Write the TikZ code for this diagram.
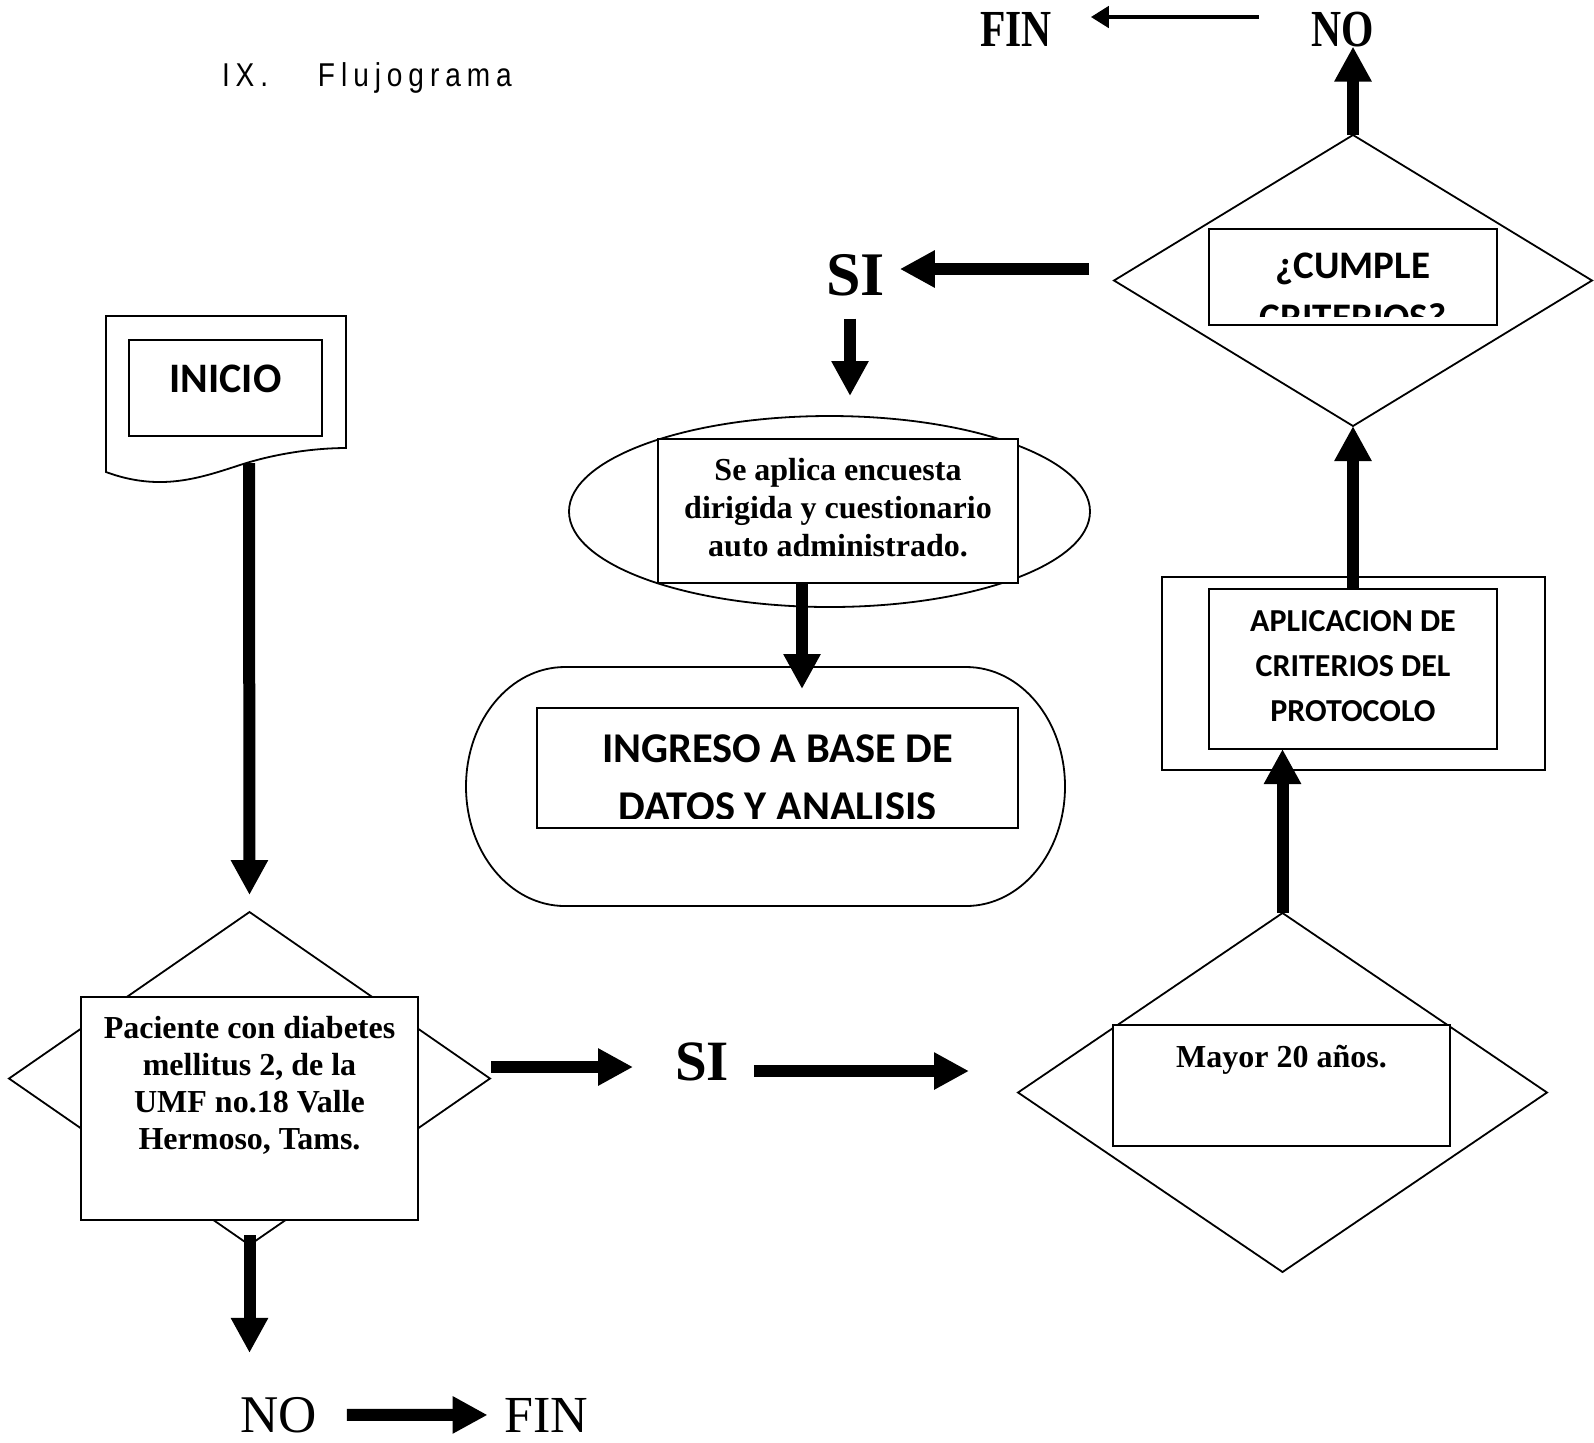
\documentclass[tikz,border=0pt]{standalone}
\usepackage{fontspec}
\setmainfont{Liberation Serif}
\newfontfamily\calfont{Carlito}
\newfontfamily\condfont[FakeStretch=0.8]{Liberation Serif}
\newfontfamily\titlefont[FakeStretch=0.85,LetterSpace=18]{Liberation Sans}
\usetikzlibrary{shapes.geometric,arrows.meta}
\tikzset{
  shapeline/.style={draw=black,line width=0.9pt},
  dia/.style={shapeline,diamond,inner sep=0pt,outer sep=0pt,fill=white},
  box/.style={shapeline,rectangle,inner sep=0pt,outer sep=0pt,fill=white},
  oval/.style={shapeline,ellipse,inner sep=0pt,outer sep=0pt,fill=white},
  bigarrow/.style={line width=6pt,-{Triangle[length=17.5pt,width=17.5pt]}},
  smallarrow/.style={line width=2.3pt,-{Triangle[length=9pt,width=10.5pt]}},
  serifbox/.style={font=\bfseries\fontsize{16pt}{18.5pt}\selectfont,align=center,inner sep=0pt},
  lbl/.style={inner sep=0pt,outer sep=0pt},
}
\begin{document}
\begin{tikzpicture}[x=0.5pt,y=-0.5pt]
\path[use as bounding box,fill=white] (0,0) rectangle (1594,1442);

% title
\node[lbl,anchor=base west,font=\titlefont\fontsize{16.5pt}{20pt}\selectfont] (title) at (222,86)
  {\makebox[48pt][l]{IX.}Flujograma};

% INICIO document shape
\draw[shapeline,fill=white] (106,316) -- (346,316) -- (346,448)
  .. controls (320,448) and (280,452) .. (240,465)
  .. controls (200,478) and (160,492) .. (106,472) -- cycle;
\coordinate (docb) at (249,463);
\node[box,minimum width=96.5pt,minimum height=48pt] (inicioR) at (225.5,388) {};
\node[lbl,anchor=base,font=\calfont\bfseries\fontsize{21pt}{25pt}\selectfont] (inicioT) at (225.5,392) {INICIO};

% Paciente decision
\node[dia,minimum width=240.5pt,minimum height=166.5pt] (pacD) at (249.5,1078.5) {};
\node[box,minimum width=168.5pt,minimum height=111.5pt] (pacR) at (249.5,1108.5) {};
\node[serifbox,anchor=north] (pacT) at (249.5,1016)
  {Paciente con diabetes\\mellitus 2, de la\\UMF no.18 Valle\\Hermoso, Tams.};

% Mayor decision
\node[dia,minimum width=264.5pt,minimum height=179.5pt] (mayorD) at (1282.5,1092.5) {};
\node[box,minimum width=168.5pt,minimum height=60.5pt] (mayorR) at (1281.5,1085.5) {};
\node[serifbox,anchor=base] (mayorT) at (1281.5,1067) {Mayor 20 años.};

% Aplicacion
\node[box,minimum width=191.5pt,minimum height=96.5pt] (aplO) at (1353.5,673.5) {};
\node[box,minimum width=144pt,minimum height=80pt] (aplI) at (1353,669) {};
\node[lbl,anchor=north,align=center,font=\calfont\bfseries\fontsize{16pt}{22.5pt}\selectfont] (aplT) at (1353,610)
  {APLICACION DE\\CRITERIOS DEL\\PROTOCOLO};

% Cumple decision
\node[dia,minimum width=239pt,minimum height=145.5pt] (cumpleD) at (1353,280.5) {};
\node[box,minimum width=144pt,minimum height=48pt] (cumpleR) at (1353,277) {};
\begin{scope}
  \clip (1209,229) rectangle (1497,316);
  \node[lbl,anchor=north,align=center,font=\calfont\bfseries\fontsize{19.5pt}{26pt}\selectfont] (cumpleT) at (1353,253)
    {¿CUMPLE\\CRITERIOS?};
\end{scope}

% Encuesta
\node[oval,minimum width=260.5pt,minimum height=95.5pt] (ell) at (829.5,511.5) {};
\node[box,minimum width=180pt,minimum height=72pt] (encR) at (838,511) {};
\node[anchor=north,align=center,inner sep=0pt,font=\bfseries\fontsize{16pt}{18.9pt}\selectfont] (encT) at (838,458)
  {Se aplica encuesta\\dirigida y cuestionario\\auto administrado.};

% Terminator
\draw[shapeline,fill=white] (565,667) -- (966,667)
  .. controls (1021,667) and (1065,720.5) .. (1065,786.5)
  .. controls (1065,852.5) and (1021,906) .. (966,906)
  -- (565,906)
  .. controls (510,906) and (466,852.5) .. (466,786.5)
  .. controls (466,720.5) and (510,667) .. cycle;
\node[box,minimum width=240.5pt,minimum height=60pt] (ingR) at (777.5,768) {};
\begin{scope}
  \clip (537,708) rectangle (1018,818);
  \node[lbl,anchor=north,align=center,font=\calfont\bfseries\fontsize{21.2pt}{29pt}\selectfont] (ingT) at (777.5,735)
    {INGRESO A BASE DE\\DATOS Y ANALISIS};
\end{scope}

% labels
\node[lbl,anchor=base,font=\condfont\bfseries\fontsize{26pt}{30pt}\selectfont] (finT) at (1016,46) {FIN};
\node[lbl,anchor=base,font=\condfont\bfseries\fontsize{26pt}{30pt}\selectfont] (noT) at (1343,46) {NO};
\node[lbl,anchor=base,font=\bfseries\fontsize{31pt}{34pt}\selectfont] (siT) at (855.5,295) {SI};
\node[lbl,anchor=base,font=\bfseries\fontsize{28.5pt}{32pt}\selectfont] (siM) at (702,1080) {SI};
\node[lbl,anchor=base,font=\fontsize{26.5pt}{30pt}\selectfont] (noB) at (278.5,1432) {NO};
\node[lbl,anchor=base,font=\fontsize{26pt}{30pt}\selectfont] (finB) at (546.5,1432) {FIN};

% helper coordinates
\coordinate (rowA) at (0,1067);
\coordinate (rowB) at (0,1071);
\coordinate (rowC) at (0,17);
\coordinate (rowD) at (0,269);
\coordinate (colX) at (850,0);
\coordinate (colY) at (802,0);

% connectors
\draw[bigarrow,shorten >=8.5pt] (docb) -- (pacD.north);
\draw[bigarrow,shorten <=-5pt,shorten >=22pt] (pacD.south) -- (pacD.south |- noB.north);
\draw[bigarrow,shorten <=15pt,shorten >=8.5pt] (noB.east) -- (finB.west);
\draw[bigarrow,shorten <=0.5pt,shorten >=21pt] (pacD.east |- rowA) -- (siM.west |- rowA);
\draw[bigarrow,shorten <=12.5pt,shorten >=24.5pt] (siM.east |- rowB) -- (mayorD.west |- rowB);
\draw[bigarrow] (mayorD.north) -- (mayorD.north |- aplI.south);
\draw[bigarrow] (aplI.north) -- (cumpleD.south);
\draw[bigarrow] (cumpleD.north) -- (cumpleD.north |- noT.south);
\draw[smallarrow,shorten <=26.5pt,shorten >=19.5pt] (noT.west |- rowC) -- (finT.east |- rowC);
\draw[bigarrow,shorten <=12.5pt,shorten >=7.5pt] (cumpleD.west |- rowD) -- (siT.east |- rowD);
\draw[bigarrow,shorten <=11.5pt,shorten >=10pt] (siT.south -| colX) -- (ell.north -| colX);
\draw[bigarrow,shorten >=9.5pt] (encR.south -| colY) -- (ingR.north -| colY);
\end{tikzpicture}
\end{document}
